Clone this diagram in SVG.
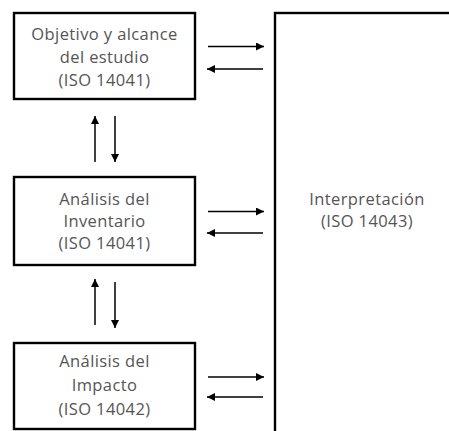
<svg xmlns="http://www.w3.org/2000/svg" width="449" height="431" viewBox="0 0 449 431">
<defs>
<marker id="ah" viewBox="0 0 10 10" refX="10" refY="5" markerWidth="9" markerHeight="8" markerUnits="userSpaceOnUse" orient="auto">
<path d="M0,0 L10,5 L0,10 z" fill="#000"/>
</marker>
<style>
.box{fill:#fff;stroke:#000;stroke-width:2.4}
.t{font-family:"Open Sans","Liberation Sans",sans-serif;font-size:16.5px;letter-spacing:0.4px;fill:#555;text-anchor:middle}
.c{stroke:#000;stroke-width:1.5;fill:none;marker-end:url(#ah)}
</style>
</defs>
<rect width="449" height="431" fill="#fff"/>
<g id="n1">
<rect class="box" x="14" y="13" width="181" height="86"/>
<text class="t" x="104.5" y="40">Objetivo y alcance</text>
<text class="t" x="104.5" y="63">del estudio</text>
<text class="t" x="104.5" y="86">(ISO 14041)</text>
</g>
<g id="n2">
<rect class="box" x="14" y="177" width="181" height="88"/>
<text class="t" x="104.5" y="205">Análisis del</text>
<text class="t" x="104.5" y="227">Inventario</text>
<text class="t" x="104.5" y="249">(ISO 14041)</text>
</g>
<g id="n3">
<rect class="box" x="14" y="343" width="181" height="86"/>
<text class="t" x="104.5" y="367">Análisis del</text>
<text class="t" x="104.5" y="391">Impacto</text>
<text class="t" x="104.5" y="415">(ISO 14042)</text>
</g>
<g id="n4">
<rect class="box" x="275" y="13" width="190" height="430"/>
<text class="t" x="367" y="205">Interpretación</text>
<text class="t" x="367" y="227">(ISO 14043)</text>
</g>
<g id="connectors">
<line class="c" x1="208" y1="46.5" x2="264" y2="46.5"/>
<line class="c" x1="263" y1="69" x2="207" y2="69"/>
<line class="c" x1="208" y1="211.5" x2="264" y2="211.5"/>
<line class="c" x1="263" y1="233" x2="207" y2="233"/>
<line class="c" x1="208" y1="377" x2="264" y2="377"/>
<line class="c" x1="263" y1="397" x2="207" y2="397"/>
<line class="c" x1="95" y1="162" x2="95" y2="116"/>
<line class="c" x1="115" y1="116" x2="115" y2="162"/>
<line class="c" x1="95" y1="325" x2="95" y2="279"/>
<line class="c" x1="115" y1="282" x2="115" y2="328"/>
</g>
</svg>
